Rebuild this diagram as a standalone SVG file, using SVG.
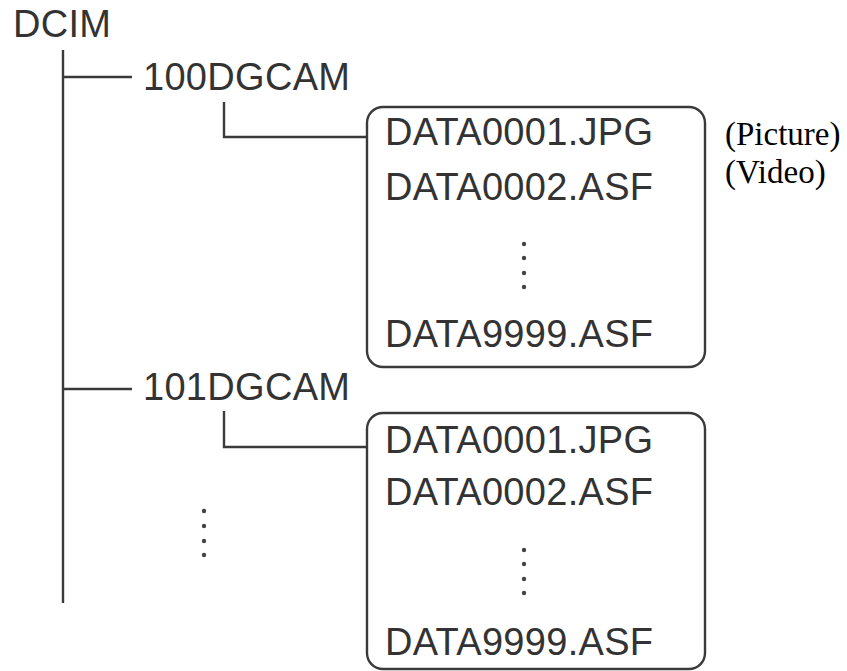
<svg xmlns="http://www.w3.org/2000/svg" width="847" height="671" viewBox="0 0 847 671">
<style>
.t{font-family:"Liberation Sans",Arial,sans-serif;font-size:38px;letter-spacing:0.3px;fill:#333}
.n{font-family:"Liberation Serif","Times New Roman",serif;font-size:33px;fill:#000}
.ln{fill:none;stroke:#3a3a3a;stroke-width:2.4}
.box{fill:#fff;stroke:#3a3a3a;stroke-width:2.4}
.dot{fill:#444}
</style>
<rect width="847" height="671" fill="#fff"/>
<g id="connectors">
<path class="ln" d="M63 50V603"/>
<path class="ln" d="M63 77H132"/>
<path class="ln" d="M63 389H132"/>
<path class="ln" d="M224 102V137H367"/>
<path class="ln" d="M224 411V447H367"/>
</g>
<g id="dcim"><text class="t" x="13" y="37">DCIM</text></g>
<g id="folder100"><text class="t" x="143" y="90">100DGCAM</text></g>
<g id="folder101"><text class="t" x="143" y="400">101DGCAM</text></g>
<g id="files100">
<rect class="box" x="367" y="107" width="338" height="260" rx="16"/>
<text class="t" x="385" y="145">DATA0001.JPG</text>
<text class="t" x="385" y="200">DATA0002.ASF</text>
<circle class="dot" cx="524" cy="244" r="2.2"/>
<circle class="dot" cx="524" cy="258" r="2.2"/>
<circle class="dot" cx="524" cy="273" r="2.2"/>
<circle class="dot" cx="524" cy="287" r="2.2"/>
<text class="t" x="385" y="347">DATA9999.ASF</text>
</g>
<g id="files101">
<rect class="box" x="367" y="413" width="338" height="256" rx="16"/>
<text class="t" x="385" y="453">DATA0001.JPG</text>
<text class="t" x="385" y="505">DATA0002.ASF</text>
<circle class="dot" cx="524" cy="550" r="2.2"/>
<circle class="dot" cx="524" cy="564" r="2.2"/>
<circle class="dot" cx="524" cy="579" r="2.2"/>
<circle class="dot" cx="524" cy="593" r="2.2"/>
<text class="t" x="385" y="655">DATA9999.ASF</text>
</g>
<g id="more-folders">
<circle class="dot" cx="204" cy="511" r="2.2"/>
<circle class="dot" cx="204" cy="526" r="2.2"/>
<circle class="dot" cx="204" cy="541" r="2.2"/>
<circle class="dot" cx="204" cy="555" r="2.2"/>
</g>
<g id="notes">
<text class="n" x="725" y="145">(Picture)</text>
<text class="n" x="725" y="183">(Video)</text>
</g>
</svg>
